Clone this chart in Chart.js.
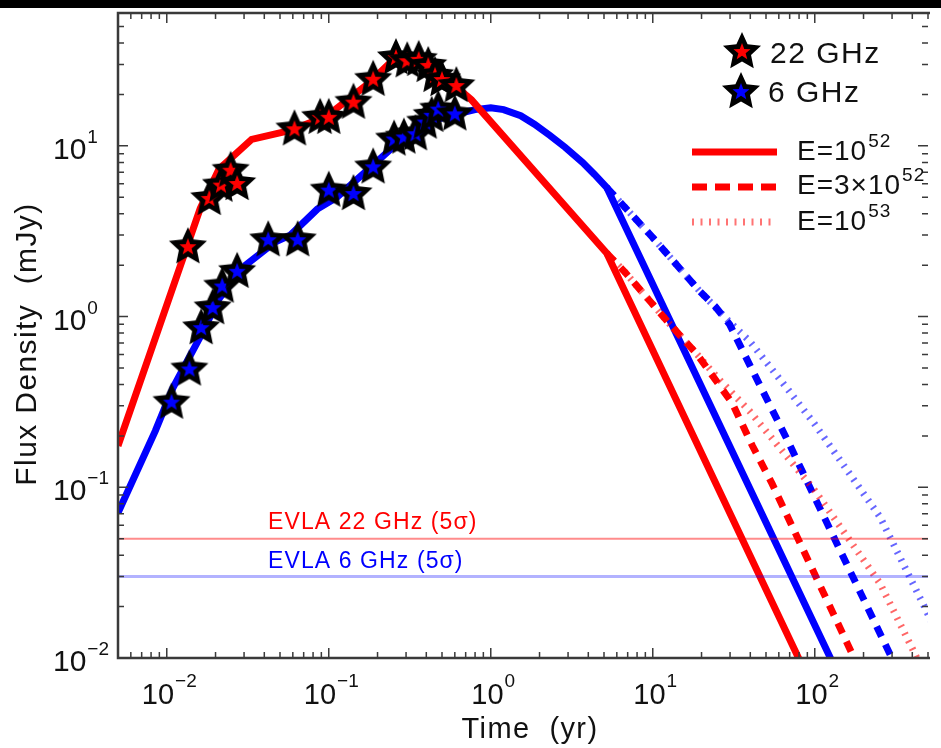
<!DOCTYPE html>
<html>
<head>
<meta charset="utf-8">
<script src="https://cdn.jsdelivr.net/npm/chart.js@4.4.0/dist/chart.umd.min.js"></script>
<style>
  html, body { margin: 0; padding: 0; background: #fff; }
  #wrap { position: relative; width: 941px; height: 748px; overflow: hidden; }
  #topbar { position: absolute; left: 0; top: 0; width: 941px; height: 8px; background: #000; }
</style>
</head>
<body>
<div id="wrap">
  <canvas id="fluxChart" width="941" height="748"></canvas>
  <div id="topbar"></div>
</div>
<script>
// observed points (time in yr, flux density in mJy)
const t22 = [0.0135, 0.0183, 0.0216, 0.0248, 0.0272, 0.0614, 0.0885, 0.1, 0.142, 0.188, 0.26, 0.305, 0.359, 0.411, 0.453, 0.5, 0.613];
const f22 = [2.55, 4.89, 5.85, 7.15, 5.98, 12.5, 14.6, 14.6, 17.9, 24.4, 32.7, 31.3, 31.9, 29.4, 25.7, 24.3, 22.4];
const t6 = [0.0107, 0.0138, 0.0163, 0.0192, 0.022, 0.0272, 0.0423, 0.0643, 0.1, 0.142, 0.188, 0.253, 0.291, 0.343, 0.394, 0.432, 0.474, 0.6];
const f6 = [0.313, 0.49, 0.855, 1.12, 1.5, 1.83, 2.8, 2.8, 5.47, 5.22, 7.48, 10.9, 11.2, 11.7, 13.7, 15.0, 16.3, 15.3];

// model, E=1e52
const tModel22 = [0.005, 0.0133, 0.0161, 0.021, 0.0334, 0.058, 0.098, 0.178, 0.249, 0.34, 0.486, 0.76, 5.2, 100];
const fModel22 = [0.175, 2.55, 4.3, 7.3, 10.9, 12.3, 15, 23.4, 31.8, 32, 26.7, 18.6, 2.35, 0.0063];
const tModel6 = [0.005, 0.0085, 0.0109, 0.0159, 0.021, 0.0306, 0.0466, 0.058, 0.085, 0.112, 0.196, 0.311, 0.453, 0.66, 0.8, 1.0, 1.2, 1.53, 1.86, 2.32, 2.88, 3.68, 4.37, 5.2, 160];
const fModel6 = [0.071, 0.214, 0.381, 0.745, 1.27, 2.0, 2.73, 3.0, 4.26, 4.99, 8.0, 11.9, 14.2, 15.6, 16.3, 16.7, 16.3, 15, 13.4, 11.5, 9.8, 8.0, 6.8, 5.7, 0.0061];

// late time, E=3e52
const tMid22 = [5.2, 6.7, 12.4, 18.8, 31, 41.2, 54.5, 175, 220];
const fMid22 = [2.35, 1.83, 0.93, 0.6, 0.31, 0.175, 0.105, 0.01, 0.0063];
const tMid6 = [5.2, 10, 19.6, 24.2, 29.8, 39.5, 68.9, 100, 299, 380];
const fMid6 = [5.7, 2.9, 1.4, 1.15, 0.9, 0.525, 0.183, 0.087, 0.01, 0.0062];

// late time, E=1e53
const tHigh22 = [5.2, 6.7, 12.4, 18.8, 25, 39.5, 100, 253, 403, 520];
const fHigh22 = [2.35, 1.83, 0.93, 0.6, 0.44, 0.28, 0.0957, 0.0273, 0.0112, 0.0067];
const tHigh6 = [5.2, 10, 19.6, 29.8, 39.5, 68.9, 100, 253, 486, 600];
const fHigh6 = [5.7, 2.9, 1.4, 0.93, 0.72, 0.37, 0.234, 0.0669, 0.0191, 0.0125];

// EVLA 5 sigma limits (mJy)
const limit22 = 0.05;
const limit6 = 0.03;

// axis ticks
const xMajor = [0.01, 0.1, 1, 10, 100];
const xExp = ['\u22122', '\u22121', '0', '1', '2'];
const yMajor = [0.01, 0.1, 1, 10];
const yExp = ['\u22122', '\u22121', '0', '1'];
const decades = [0.001, 0.01, 0.1, 1, 10, 100];
const minorSteps = [2, 3, 4, 5, 6, 7, 8, 9];

const RED = '#ff0000', BLUE = '#0000ff';
const FONT = '"Liberation Sans", Arial, sans-serif';

const pts = (ts, fs) => ts.map((t, i) => ({ x: t, y: fs[i] }));

// filled five point star with thick black rim
const makeStar = (fill) => {
  const c = document.createElement('canvas');
  const s = 44; c.width = s; c.height = s;
  const g = c.getContext('2d');
  const star = (R, r) => {
    g.beginPath();
    for (let k = 0; k < 10; k++) {
      const rr = k % 2 ? r : R;
      const a = -Math.PI / 2 + k * Math.PI / 5;
      g.lineTo(s / 2 + rr * Math.cos(a), s / 2 + rr * Math.sin(a));
    }
    g.closePath();
  };
  star(20, 9.5); g.fillStyle = '#000'; g.fill();
  star(9, 3.8); g.fillStyle = fill; g.fill();
  return c;
};
const starRed = makeStar(RED);
const starBlue = makeStar(BLUE);

const lineSet = (data, color, dash, order, width) => ({
  data: data, borderColor: color, borderWidth: width || 7, borderDash: dash || [],
  pointRadius: 0, fill: false, tension: 0, order: order
});

// text followed by a superscript
const supText = (ctx, main, sup, x, base, big, small, rise, align, spacing) => {
  ctx.letterSpacing = spacing || '0px';
  ctx.font = big + 'px ' + FONT;
  const w1 = ctx.measureText(main).width;
  ctx.font = small + 'px ' + FONT;
  const w2 = ctx.measureText(sup).width;
  const x0 = align === 'center' ? x - (w1 + w2) / 2 : x;
  ctx.textAlign = 'left';
  ctx.font = big + 'px ' + FONT;
  ctx.fillText(main, x0, base);
  ctx.font = small + 'px ' + FONT;
  ctx.fillText(sup, x0 + w1 + 1, base - rise);
  ctx.letterSpacing = '0px';
};

const decor = {
  id: 'decor',
  afterDraw(chart) {
    const { ctx, chartArea: a, scales: { x, y } } = chart;
    ctx.save();
    // frame (right side falls off the picture)
    ctx.strokeStyle = '#3a3a3a';
    ctx.lineWidth = 2.5;
    ctx.beginPath();
    ctx.moveTo(a.right + 2, a.top); ctx.lineTo(a.left, a.top);
    ctx.lineTo(a.left, a.bottom); ctx.lineTo(a.right + 2, a.bottom);
    ctx.stroke();
    // ticks, pointing inward on all four sides
    ctx.lineWidth = 1.5;
    ctx.beginPath();
    decades.forEach(d => {
      [1].concat(minorSteps).forEach(m => {
        const v = d * m;
        const len = m === 1 ? 10 : 6;
        if (v >= x.min && v <= x.max) {
          const px = x.getPixelForValue(v);
          ctx.moveTo(px, a.bottom); ctx.lineTo(px, a.bottom - len);
          ctx.moveTo(px, a.top); ctx.lineTo(px, a.top + len);
        }
        if (v >= y.min && v <= y.max) {
          const py = y.getPixelForValue(v);
          ctx.moveTo(a.left, py); ctx.lineTo(a.left + len, py);
          ctx.moveTo(a.right, py); ctx.lineTo(a.right - len, py);
        }
      });
    });
    ctx.stroke();

    ctx.fillStyle = '#111';
    ctx.textBaseline = 'alphabetic';
    // tick labels
    xMajor.forEach((v, i) => {
      supText(ctx, '10', xExp[i], x.getPixelForValue(v) + 2, 704, 29, 19, 17, 'center');
    });
    yMajor.forEach((v, i) => {
      const py = y.getPixelForValue(v);
      supText(ctx, '10', yExp[i], 53, py + 13, 30, 19, 16, 'left');
    });

    // axis titles
    ctx.letterSpacing = '1.4px';
    ctx.font = '29px ' + FONT;
    ctx.textAlign = 'center';
    ctx.fillText('Time  (yr)', 530, 738);
    ctx.save();
    ctx.translate(36, 344);
    ctx.rotate(-Math.PI / 2);
    ctx.font = '30px ' + FONT;
    ctx.fillText('Flux Density  (mJy)', 0, 0);
    ctx.restore();

    // limit labels
    ctx.textAlign = 'left';
    ctx.letterSpacing = '1.1px';
    ctx.font = '23px ' + FONT;
    ctx.fillStyle = RED;
    ctx.fillText('EVLA 22 GHz (5\u03c3)', 268, 529);
    ctx.fillStyle = BLUE;
    ctx.fillText('EVLA 6 GHz (5\u03c3)', 268, 568);

    // legend: data
    ctx.drawImage(starRed, 742 - 22, 52 - 22);
    ctx.drawImage(starBlue, 741 - 22, 92 - 22);
    ctx.fillStyle = '#111';
    ctx.letterSpacing = '1.5px';
    ctx.font = '30px ' + FONT;
    ctx.fillText('22 GHz', 770, 63);
    ctx.fillText('6 GHz', 768, 102);
    ctx.letterSpacing = '0px';

    // legend: models
    const legLines = [
      { yy: 152, dash: [], color: RED, w: 7 },
      { yy: 187, dash: [15, 8], color: RED, w: 7 },
      { yy: 222, dash: [2, 6.5], color: 'rgba(255,0,0,0.55)', w: 7 }
    ];
    legLines.forEach(l => {
      ctx.beginPath();
      ctx.setLineDash(l.dash);
      ctx.strokeStyle = l.color;
      ctx.lineWidth = l.w;
      ctx.moveTo(692, l.yy); ctx.lineTo(777, l.yy);
      ctx.stroke();
    });
    ctx.setLineDash([]);
    ctx.fillStyle = '#111';
    supText(ctx, 'E=10', '52', 797, 160, 28, 19, 13, 'left', '1px');
    supText(ctx, 'E=3\u00d710', '52', 797, 194, 28, 19, 13, 'left', '1px');
    supText(ctx, 'E=10', '53', 797, 230, 28, 19, 13, 'left', '1px');
    ctx.restore();
  }
};

const datasets = [
  { data: pts(t6, f6), showLine: false, pointStyle: starBlue, pointRadius: 12, order: 0 },
  { data: pts(t22, f22), showLine: false, pointStyle: starRed, pointRadius: 12, order: 1 },
  lineSet([{ x: 0.005, y: limit22 }, { x: 500, y: limit22 }], 'rgba(255,0,0,0.45)', [], 2, 2),
  lineSet([{ x: 0.005, y: limit6 }, { x: 500, y: limit6 }], 'rgba(0,0,255,0.3)', [], 2, 3),
  lineSet(pts(tModel22, fModel22), RED, [], 3),
  lineSet(pts(tMid22, fMid22), RED, [11, 9], 3),
  lineSet(pts(tHigh22, fHigh22), 'rgba(255,0,0,0.6)', [2, 6.5], 3),
  lineSet(pts(tModel6, fModel6), BLUE, [], 4),
  lineSet(pts(tMid6, fMid6), BLUE, [11, 9], 4),
  lineSet(pts(tHigh6, fHigh6), 'rgba(0,0,255,0.6)', [2, 6.5], 4)
];

new Chart(document.getElementById('fluxChart'), {
  type: 'line',
  data: { datasets: datasets },
  options: {
    responsive: false,
    animation: false,
    layout: { padding: { left: 118, top: 10, right: 0, bottom: 90 } },
    scales: {
      x: { type: 'logarithmic', min: 0.005, max: 500, display: false },
      y: { type: 'logarithmic', min: 0.01, max: 60, display: false }
    },
    plugins: { legend: { display: false }, tooltip: { enabled: false } }
  },
  plugins: [decor]
});
</script>
</body>
</html>
